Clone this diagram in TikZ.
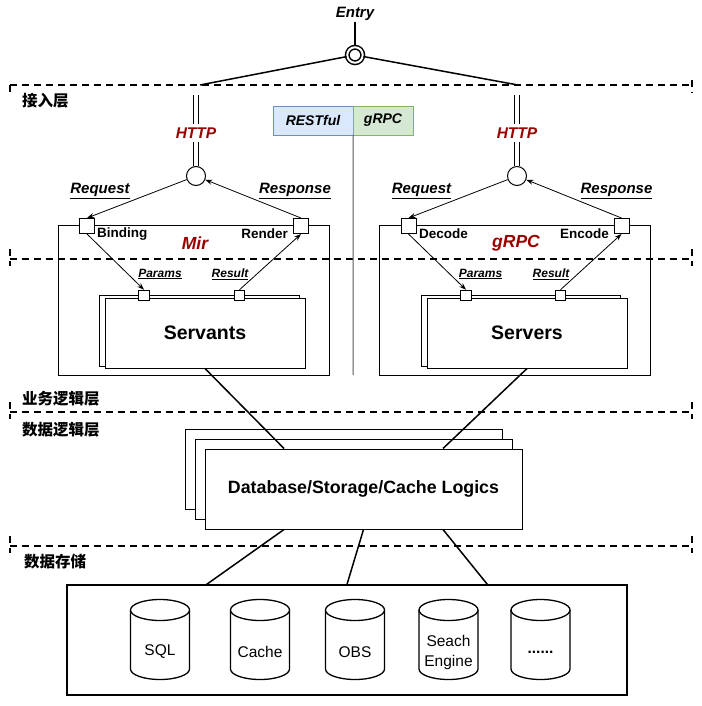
\documentclass[tikz,border=0pt]{standalone}
\usepackage{fontspec}
\setmainfont{Liberation Sans}
\newfontfamily\cjk{Noto Sans CJK SC}
\usetikzlibrary{arrows.meta,calc}
\definecolor{httpred}{HTML}{990000}
\definecolor{restfill}{HTML}{DAE8FC}
\definecolor{restline}{HTML}{6C8EBF}
\definecolor{rpcfill}{HTML}{D5E8D4}
\definecolor{rpcline}{HTML}{82B366}
\newcommand{\fs}[1]{\fontsize{#1}{#1}\selectfont}
\newcommand{\moredots}{\textbf{......}}
\begin{document}
\begin{tikzpicture}[x=1pt,y=-1pt,
    layer/.style={line width=1.5pt,dash pattern=on 7pt off 5pt},
    laytext/.style={anchor=west,font=\cjk\bfseries\fs{15.5},inner sep=0pt},
    tag/.style={font=\bfseries\itshape\fs{15},inner sep=1pt},
    proto/.style={font=\bfseries\itshape\fs{15.5},text=httpred,inner sep=3pt},
    title/.style={font=\bfseries\itshape\fs{17.5},text=httpred},
    step name/.style={font=\bfseries\fs{13.5},inner sep=0pt},
    small tag/.style={font=\bfseries\itshape\fs{12},inner sep=0pt},
    frame/.style={draw,line width=1pt,inner sep=0pt},
    box/.style={frame,fill=white},
    port/.style={draw,fill=white,minimum size=15pt,inner sep=0pt,line width=1pt},
    sport/.style={port,minimum size=10.5pt},
    flow/.style={-{Stealth[length=7pt,width=5pt]},line width=0.8pt},
    link/.style={line width=1.5pt},
    wire/.style={double,double distance=3.5pt,line width=1.3pt},
    store/.style={font=\fontsize{15.5}{20}\selectfont,align=center,inner sep=0pt}]

    \useasboundingbox (0,0) rectangle (701,706);

    % layers
    \draw[layer] (10,85) -- (692,85);
    \draw[layer] (10,85) -- (10,93);
    \draw[layer] (692,80) -- (692,93);
    \foreach \y in {259,412,546} {
        \draw[layer] (10,\y) -- (692,\y);
        \draw[layer] (10,\y-10) -- (10,\y+7);
        \draw[layer] (692,\y-10) -- (692,\y+7);
    }
    \node[laytext] (lay1) at (22,101) {接入层};
    \node[laytext] (lay2) at (22,399) {业务逻辑层};
    \node[laytext] (lay3) at (22,430) {数据逻辑层};
    \node[laytext] (lay4) at (24,562) {数据存储};

    % entry
    \node[tag] (entry) at (355,14) {Entry};
    \node[draw,circle,double,double distance=2pt,line width=1.5pt,
          minimum size=15.5pt,inner sep=0pt] (hub) at (355,55) {};
    \coordinate (hubL) at (200,85);
    \coordinate (hubR) at (518,85);
    \draw[link] (entry) -- (hub);
    \draw[link] (hub) -- (hubL);
    \draw[link] (hub) -- (hubR);

    % protocols
    \node[draw=restline,fill=restfill,minimum width=80pt,minimum height=29pt,
          font=\bfseries\itshape\fs{14},inner sep=0pt] (rest) at (313,120.5) {RESTful};
    \node[draw=rpcline,fill=rpcfill,minimum width=60pt,minimum height=29pt,
          font=\bfseries\itshape\fs{14},inner sep=0pt] (rpc) at (383,120.5) {gRPC};
    \coordinate (split) at (353,375);
    \draw[black!65,line width=1pt] (rest.south east) -- (split);

    % left side
    \coordinate (inL) at (196,95);
    \node[proto] (httpL) at (196,133) {HTTP};
    \node[draw,circle,minimum size=19pt,inner sep=0pt,line width=1pt] (joinL) at (196,176) {};
    \draw[wire] (inL) -- (httpL);
    \draw[wire] (httpL) -- (joinL);

    \node[frame,minimum width=271pt,minimum height=150pt] (mir) at (193.5,300) {};
    \node[title] (mirT) at (195,243) {Mir};
    \node[step name,anchor=west] (bindT) at (97,234) {Binding};
    \node[step name,anchor=east] (rendT) at (288,234) {Render};
    \node[box,minimum width=200pt,minimum height=71pt] (servB) at (199,330.5) {};
    \node[box,minimum width=200pt,minimum height=70pt,font=\bfseries\fs{19.5}] (serv) at (205,333) {Servants};
    \node[port] (bindL) at (87,226) {};
    \node[port] (rendL) at (301,226) {};
    \node[sport] (parL) at (144,295.5) {};
    \node[sport] (resL) at (239.5,295.5) {};
    \node[tag] (reqL) at (100,191) {\underline{Request}};
    \node[tag] (rspL) at (295,191) {\underline{Response}};
    \node[small tag] (parLT) at (160,274) {\underline{Params}};
    \node[small tag] (resLT) at (230,274) {\underline{Result}};

    \draw[flow] (joinL) -- (bindL.north);
    \draw[flow] (rendL.north) -- (joinL);
    \draw[flow] (bindL.south) -- (parL.north);
    \draw[flow] (resL.north) -- (rendL.south);

    % right side
    \coordinate (inR) at (517,95);
    \node[proto] (httpR) at (517,133) {HTTP};
    \node[draw,circle,minimum size=19pt,inner sep=0pt,line width=1pt] (joinR) at (517,176) {};
    \draw[wire] (inR) -- (httpR);
    \draw[wire] (httpR) -- (joinR);

    \node[frame,minimum width=271pt,minimum height=150pt] (grpc) at (514.5,300) {};
    \node[title] (grpcT) at (516,243) {gRPC};
    \node[step name,anchor=west] (decT) at (419,234) {Decode};
    \node[step name,anchor=east] (encT) at (609,234) {Encode};
    \node[box,minimum width=199pt,minimum height=71pt] (srvB) at (520.5,330.5) {};
    \node[box,minimum width=200pt,minimum height=70pt,font=\bfseries\fs{19.5}] (srv) at (527,333) {Servers};
    \node[port] (decR) at (408.5,226) {};
    \node[port] (encR) at (621.5,226) {};
    \node[sport] (parR) at (466,295.5) {};
    \node[sport] (resR) at (560.5,295.5) {};
    \node[tag] (reqR) at (421.5,191) {\underline{Request}};
    \node[tag] (rspR) at (616.5,191) {\underline{Response}};
    \node[small tag] (parRT) at (480.5,274) {\underline{Params}};
    \node[small tag] (resRT) at (551,274) {\underline{Result}};

    \draw[flow] (joinR) -- (decR.north);
    \draw[flow] (encR.north) -- (joinR);
    \draw[flow] (decR.south) -- (parR.north);
    \draw[flow] (resR.north) -- (encR.south);

    % data logic
    \node[box,minimum width=317pt,minimum height=80pt] (dbA) at (343.5,469) {};
    \node[box,minimum width=317pt,minimum height=80pt] (dbB) at (353.5,479) {};
    \node[box,minimum width=317pt,minimum height=80pt,font=\bfseries\fs{17.8}] (db) at (363.5,489) {Database/Storage/Cache Logics};

    \draw[link] (serv.south) -- ($(db.north west)!.25!(db.north east)$);
    \draw[link] (srv.south) -- ($(db.north west)!.75!(db.north east)$);

    % storage
    \node[draw,line width=1.3pt,minimum width=560pt,minimum height=110pt,inner sep=0pt] (stor) at (347,640) {};
    \draw[link] ($(db.south west)!.25!(db.south east)$) -- ($(stor.north west)!.25!(stor.north east)$);
    \draw[link] ($(db.south west)!.5!(db.south east)$) -- ($(stor.north west)!.5!(stor.north east)$);
    \draw[link] ($(db.south west)!.75!(db.south east)$) -- ($(stor.north west)!.75!(stor.north east)$);

    \foreach \cx/\nm/\txt in {160/sql/SQL,260/cache/Cache,355/obs/OBS,448.5/search/{Seach\\Engine},540.5/more/\moredots} {
        \draw[line width=1.3pt] (\cx-29.5,610) -- (\cx-29.5,669)
            arc[start angle=180,end angle=0,x radius=29.5,y radius=10.5] -- (\cx+29.5,610);
        \draw[line width=1.3pt,fill=white] (\cx,610) ellipse[x radius=29.5,y radius=10.5];
        \node[store] (\nm) at (\cx,652) {\txt};
    }

\end{tikzpicture}
\end{document}
